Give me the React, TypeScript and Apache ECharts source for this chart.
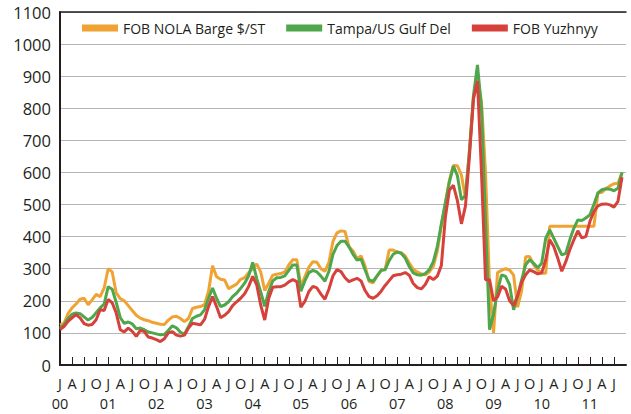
import React, { useEffect, useRef } from "react";
import * as echarts from "echarts";

const monthLetters = ["J", "F", "M", "A", "M", "J", "J", "A", "S", "O", "N", "D"];
const years = ["00", "01", "02", "03", "04", "05", "06", "07", "08", "09", "10", "11"];
const axisMonths = 142; // Jan 2000 .. Oct 2011

const seriesNames = ["FOB NOLA Barge $/ST", "Tampa/US Gulf Del", "FOB Yuzhnyy"];
const seriesColors = ["#F0A232", "#4FA64B", "#D6423B"];

const nola = [
  125, 130, 160, 178, 190, 205, 208, 188, 203, 220, 213, 240,
  300, 290, 225, 207, 200, 185, 170, 155, 146, 141, 138, 133,
  130, 127, 126, 140, 150, 152, 145, 135, 145, 176, 180, 182,
  188, 230, 309, 275, 267, 265, 238, 245, 252, 267, 272, 288,
  300, 315, 290, 232, 255, 280, 283, 285, 290, 312, 328, 328,
  245, 275, 305, 322, 320, 300, 292, 320, 385, 412, 418, 416,
  368, 355, 332, 340, 308, 260, 256, 278, 295, 298, 358, 358,
  352, 350, 340, 318, 298, 290, 284, 281, 290, 308, 355, 433,
  505, 575, 622, 621, 592, 520, 670, 830, 900, 820, 600, 250,
  100, 288, 295, 300, 296, 280, 180, 232, 337, 338, 312, 296,
  286, 286, 432, 432, 432, 432, 432, 432, 432, 432, 432, 432,
  432, 432, 536, 538, 550, 558, 565, 566, 600,
];

const tampa = [
  115, 125, 145, 158, 162, 160, 150, 140, 148, 163, 178, 190,
  244, 236, 195, 148, 130, 134, 128, 113, 115, 110, 103, 100,
  97, 94, 95, 108, 122, 116, 102, 96, 119, 145, 152, 156,
  172, 208, 240, 208, 182, 187, 197, 213, 224, 239, 255, 278,
  320, 270, 228, 183, 230, 262, 272, 273, 278, 295, 312, 312,
  230, 262, 288, 295, 290, 277, 261, 292, 345, 372, 386, 386,
  368, 345, 327, 330, 296, 265, 261, 278, 295, 297, 325, 345,
  352, 348, 333, 307, 287, 281, 280, 285, 297, 322, 370, 440,
  505, 570, 620, 590, 515, 528, 665, 840, 935, 800, 450, 110,
  158, 232, 281, 276, 250, 172, 215, 265, 312, 328, 317, 303,
  317, 395, 421, 395, 369, 343, 348, 390, 426, 452, 450, 458,
  468, 500, 536, 546, 549, 548, 543, 551, 600,
];

const yuzhnyy = [
  110, 120, 136, 147, 157, 147, 129, 124, 126, 141, 172, 170,
  204, 194, 162, 110, 103, 115, 105, 89, 108, 104, 87, 84,
  79, 73, 82, 100, 104, 93, 90, 93, 115, 130, 128, 125,
  142, 182, 213, 182, 147, 155, 166, 185, 197, 208, 222, 245,
  276, 250, 187, 140, 208, 242, 244, 244, 249, 259, 266, 260,
  180, 198, 229, 245, 240, 221, 205, 237, 278, 297, 291, 272,
  260, 265, 270, 262, 232, 213, 208, 216, 230, 248, 263, 278,
  281, 283, 288, 280, 254, 241, 237, 251, 275, 266, 277, 310,
  460, 545, 560, 512, 440, 495, 650, 830, 885, 600, 266, 266,
  200, 212, 245, 237, 200, 185, 216, 258, 281, 296, 291, 284,
  287, 328, 390, 369, 333, 292, 322, 359, 390, 418, 396, 400,
  447, 478, 496, 501, 502, 499, 492, 510, 585,
];

const yMin = 0;
const yMax = 1100;
const yInterval = 100;

const categories: string[] = [];
for (let i = 0; i < axisMonths; i++) {
  categories.push(years[Math.floor(i / 12)] + "-" + monthLetters[i % 12] + i);
}

const FONT = "'Open Sans', 'Noto Sans', sans-serif";
const TEXT = "#231F20";

export default function App() {
  const ref = useRef<HTMLDivElement>(null);
  useEffect(() => {
    document.body.style.margin = "0";
    if (!ref.current) return;
    const chart = echarts.init(ref.current, null, { renderer: "svg" });
    const showQuarter = (index: number) => index % 3 === 0 && index < axisMonths - 1;
    const showYear = (index: number) => index % 12 === 0;
    chart.setOption({
      animation: false,
      backgroundColor: "#ffffff",
      textStyle: { fontFamily: FONT },
      grid: { left: 60, right: 5, top: 12, bottom: 49, containLabel: false },
      legend: {
        data: seriesNames,
        left: 77,
        top: 16,
        itemWidth: 36,
        itemHeight: 7,
        itemGap: 21,
        icon: "rect",
        textStyle: { fontFamily: FONT, fontSize: 14, color: TEXT },
      },
      xAxis: [
        {
          type: "category",
          data: categories,
          boundaryGap: false,
          axisLine: { show: true, lineStyle: { color: "#231F20", width: 2 } },
          axisTick: {
            show: true,
            inside: true,
            length: 8,
            interval: showQuarter,
            lineStyle: { color: "#231F20", width: 1 },
          },
          axisLabel: {
            interval: showQuarter,
            showMinLabel: true,
            hideOverlap: false,
            fontFamily: FONT,
            fontSize: 14.5,
            lineHeight: 15,
            color: TEXT,
            margin: 11,
            formatter: (_v: string, i: number) => monthLetters[i % 12],
          },
          splitLine: { show: false },
        },
        {
          type: "category",
          data: categories,
          boundaryGap: false,
          position: "top",
          axisLine: { show: true, lineStyle: { color: "#231F20", width: 1.5 } },
          axisTick: { show: false },
          axisLabel: { show: false },
          splitLine: { show: false },
        },
        {
          type: "category",
          data: categories,
          boundaryGap: false,
          position: "bottom",
          offset: 0,
          axisLine: { show: false },
          axisTick: { show: false },
          axisLabel: {
            interval: showYear,
            showMinLabel: true,
            fontFamily: FONT,
            fontSize: 14.5,
            lineHeight: 15,
            color: TEXT,
            margin: 31,
            formatter: (_v: string, i: number) => years[Math.floor(i / 12)],
          },
          splitLine: { show: false },
        },
      ],
      yAxis: {
        type: "value",
        min: yMin,
        max: yMax,
        interval: yInterval,
        axisLine: { show: true, lineStyle: { color: "#231F20", width: 2 } },
        axisTick: { show: false },
        axisLabel: {
          fontFamily: FONT,
          fontSize: 16.5,
          color: TEXT,
          margin: 9,
          formatter: (v: number) => String(v),
        },
        splitLine: { show: true, lineStyle: { color: "#B5B5B5", width: 1.2 } },
      },
      series: [nola, tampa, yuzhnyy].map((d, k) => ({
        name: seriesNames[k],
        type: "line",
        data: d,
        symbol: "none",
        xAxisIndex: 0,
        lineStyle: { color: seriesColors[k], width: 3 },
        itemStyle: { color: seriesColors[k] },
        z: 2 + k,
      })),
    });
    return () => chart.dispose();
  }, []);
  return <div ref={ref} style={{ width: 631, height: 414 }} />;
}
